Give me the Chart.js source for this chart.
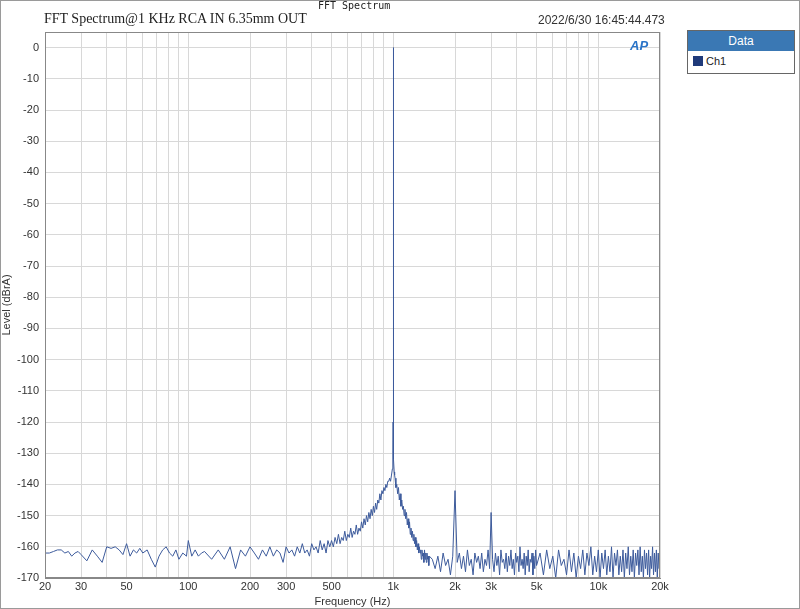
<!DOCTYPE html>
<html><head><meta charset="utf-8">
<script src="https://cdn.jsdelivr.net/npm/chart.js@4/dist/chart.umd.min.js"></script>
<style>
body{margin:0;background:#fff;width:800px;height:609px;overflow:hidden;position:relative;font-family:"Liberation Sans",Arial,sans-serif}
#frame{position:absolute;left:0;top:0;width:798px;height:607px;border:1px solid #9a9a9a}
#wrap{position:absolute;left:0;top:0;width:800px;height:609px}
.t{position:absolute;white-space:nowrap}
</style></head><body>
<div id="frame"></div>
<div id="wrap"><canvas id="c"></canvas></div>
<div class="t" style="left:318px;top:0px;font:10px 'DejaVu Sans Mono',monospace;color:#222">FFT Spectrum</div>
<div class="t" style="left:44px;top:11px;font:14px 'Liberation Serif',serif;color:#222">FFT Spectrum@1 KHz RCA IN 6.35mm OUT</div>
<div class="t" style="left:538px;top:13px;font:12px 'Liberation Sans',sans-serif;color:#333">2022/6/30 16:45:44.473</div>
<div class="t" style="left:630px;top:38px;font:italic bold 13px 'Liberation Sans',sans-serif;color:#2a74c8">AP</div>
<div class="t" style="left:687px;top:30px;width:106px;height:42px;border:1px solid #666;background:#fff">
  <div style="background:#3a78b4;color:#fff;font-size:12px;text-align:center;height:20px;line-height:20px">Data</div>
  <div style="font-size:11px;color:#222;padding:4px 0 0 18px;position:relative"><span style="position:absolute;left:5px;top:5px;width:10px;height:10px;background:#1f3a7a"></span>Ch1</div>
</div>
<script>
const freqs=[
20,21,22,23,24,25,26,27,28,29,
30,32,34,36,38,40,42,44,46,48,
50,52,54,56,58,60,63,66,69,72,
75,78,81,84,87,90,94,98,100,104,
108,112,116,120,
130,140,150,160,170,180,190,200,210,220,
230,240,250,260,270,280,290,300,310,320,
330,340,350,360,370,380,390,400,410,420,
430,440,450,460,470,480,490,500,
510,520,530,540,550,560,570,580,590,600,
610,620,630,640,650,660,670,680,690,700,
710,720,730,740,750,760,770,780,790,800,
810,820,830,840,850,860,870,880,890,900,
910,920,930,940,950,
960,970,980,985,990,995,998,1000,1002,1005,1010,1015,1020,1030,1040,
1050,1060,1070,1080,1090,1100,1110,1120,1130,1140,
1150,1160,1170,1180,1190,1200,1210,1220,1230,1240,
1250,1260,1270,1280,1290,1300,1310,1320,1330,1340,
1350,1360,1370,1380,1390,1400,1410,1420,1430,1440,
1450,1460,1470,1480,1490,1500,
1550,1600,1650,1700,1750,1800,1850,1900,1950,
2000,
2050,2100,2150,2200,2250,2300,2350,2400,2450,2500,
2550,2600,2650,2700,2750,2800,2850,2900,2950,
3000,
3050,3100,3150,3200,3250,3300,3350,3400,3450,3500,
3550,3600,3650,3700,3750,3800,3850,3900,3950,4000,
4050,4100,4150,4200,4250,4300,4350,4400,4450,4500,
4550,4600,4650,4700,4750,4800,4850,4900,4950,5000,
5200,5400,5600,5800,6000,6200,6400,6600,6800,7000,
7200,7400,7600,7800,8000,8200,8400,8600,8800,9000,
9200,9400,9600,9800,10000,10200,10400,10600,10800,11000,
11200,11400,11600,11800,12000,12200,12400,12600,12800,13000,
13200,13400,13600,13800,14000,14200,14400,14600,14800,15000,
15200,15400,15600,15800,16000,16200,16400,16600,16800,17000,
17200,17400,17600,17800,18000,18200,18400,18600,18800,19000,
19200,19400,19600,19800,20000];
const ch1Levels=[
-162,-162,-161.5,-161,-161,-162,-161.5,-163,-162,-161.5,
-162.5,-164.5,-161,-163,-165,-160,-160.5,-160,-161,-162.5,
-159,-163,-161,-162,-160.5,-162,-161,-164,-166.5,-163,
-161,-160,-162,-163,-161,-164,-162,-163,-158,-163,
-161,-163,-162,-161.5,
-164,-161,-164,-160,-167,-161,-163,-160,-162,-164,
-161,-163,-160,-163,-161,-162,-165,-160,-162,-161,
-163,-160,-162,-159,-162,-161,-163,-159,-161,-160,
-162,-158,-161,-159,-162,-158,-160,-158,
-160,-157,-159,-156,-159,-157,-158,-155,-158,-156,
-157,-154,-157,-155,-156,-153,-156,-154,-155,-152,
-154,-151,-153,-150,-152,-149,-151,-148,-150,-147,
-149,-146,-148,-145,-146,-143,-145,-142,-143,-141,
-142,-140,-141,-139,-139,
-138,-139,-137,-137,-135,-130,-120,0,-122,-132,-136,-137,-138,-141,-140,
-143,-141,-145,-143,-147,-145,-148,-147,-150,-148,
-151,-149,-153,-151,-154,-152,-156,-154,-157,-155,
-158,-156,-159,-157,-160,-158,-161,-159,-162,-160,
-162,-161,-164,-161,-163,-162,-165,-161,-164,-162,
-165,-162,-164,-163,-166,-163,
-164,-167,-163,-168,-162,-166,-164,-169,-163,
-142,
-165,-162,-167,-163,-168,-161,-166,-164,-169,-162,
-165,-163,-167,-162,-168,-164,-166,-161,-167,
-149,
-164,-168,-162,-166,-163,-169,-161,-165,-164,-167,
-162,-168,-163,-166,-161,-167,-164,-169,-162,-165,
-163,-168,-160,-166,-164,-167,-162,-169,-163,-166,
-161,-168,-164,-165,-162,-169,-163,-167,-161,-166,
-162,-169,-161,-167,-163,-170,-161,-166,-164,-169,
-161,-168,-162,-170,-163,-167,-161,-169,-162,-166,
-160,-169,-163,-168,-161,-170,-162,-167,-161,-169,
-163,-168,-160,-170,-162,-166,-161,-169,-163,-168,
-161,-170,-162,-167,-160,-169,-163,-168,-161,-170,
-162,-166,-161,-169,-160,-168,-163,-170,-161,-167,
-162,-169,-161,-170,-163,-167,-160,-169,-162,-168,
-161,-170,-162,-167,-161];
const xGridTicks=[20,30,40,50,60,70,80,90,100,200,300,400,500,600,700,800,900,1000,2000,3000,4000,5000,6000,7000,8000,9000,10000,20000];
const xLabels={20:'20',30:'30',50:'50',100:'100',200:'200',300:'300',500:'500',1000:'1k',2000:'2k',3000:'3k',5000:'5k',10000:'10k',20000:'20k'};
const yTicks=[0,-10,-20,-30,-40,-50,-60,-70,-80,-90,-100,-110,-120,-130,-140,-150,-160,-170];

const pts=freqs.map((f,i)=>({x:f,y:ch1Levels[i]}));
new Chart(document.getElementById('c'),{
 type:'line',
 data:{datasets:[{label:'Ch1',data:pts,borderColor:'#3d5b9c',borderWidth:1,pointRadius:0,tension:0}]},
 options:{responsive:true,maintainAspectRatio:false,animation:false,
  layout:{padding:{left:0,top:32,right:140,bottom:0}},
  plugins:{legend:{display:false},tooltip:{enabled:false}},
  scales:{
   x:{type:'logarithmic',min:20,max:20000,
     afterBuildTicks:s=>{s.ticks=xGridTicks.map(v=>({value:v}));},
     afterFit:s=>{s.height=31;},
     ticks:{autoSkip:false,maxRotation:0,padding:2,color:'#333',font:{size:11},callback:(v)=>xLabels[v]||''},
     grid:{color:'#d8d8d8',tickLength:0},border:{color:'#888'},
     title:{display:true,text:'Frequency (Hz)',color:'#333',font:{size:11},padding:0}},
   y:{min:-170,max:5,
     afterBuildTicks:s=>{s.ticks=yTicks.map(v=>({value:v}));},
     afterFit:s=>{s.width=45;},
     ticks:{color:'#333',font:{size:11},padding:6},
     grid:{color:'#d8d8d8',tickLength:0},border:{color:'#888'},
     title:{display:true,text:'Level (dBrA)',color:'#333',font:{size:11},padding:0}}
  }
 },
 plugins:[{id:'box',afterDraw(ch){const a=ch.chartArea,c=ch.ctx;c.save();c.strokeStyle='#888';c.lineWidth=1;c.strokeRect(a.left+.5,a.top+.5,a.right-a.left-1,a.bottom-a.top-1);c.restore();}}]
});
</script>
</body></html>
